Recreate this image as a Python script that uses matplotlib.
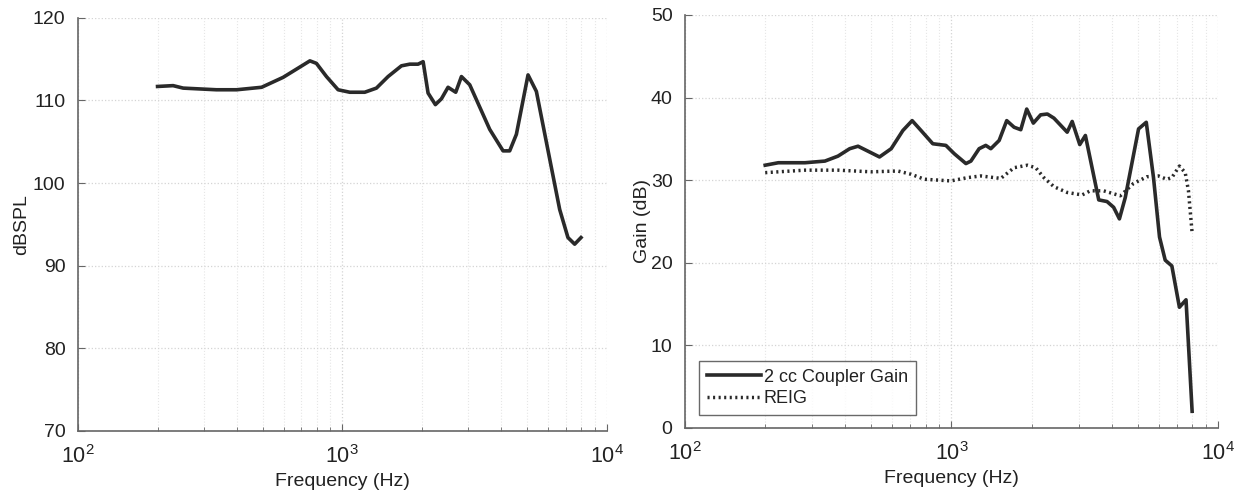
import matplotlib
matplotlib.use("Agg")
import matplotlib.pyplot as plt
from matplotlib.ticker import LogLocator, NullFormatter, FixedLocator

plt.rcParams['font.family'] = ['Liberation Sans', 'DejaVu Sans']
plt.rcParams['mathtext.fontset'] = 'custom'
plt.rcParams['mathtext.rm'] = 'Liberation Sans'
plt.rcParams['mathtext.it'] = 'Liberation Sans'
plt.rcParams['mathtext.default'] = 'regular'

# Left panel: output level (dBSPL)
spl_freq = [200, 229, 250, 334, 398, 495, 597, 671, 754, 798, 871, 964, 1067, 1216,
            1346, 1490, 1674, 1800, 1935, 2022, 2111, 2250, 2371, 2512, 2686, 2823,
            3035, 3612, 4057, 4298, 4556, 5043, 5423, 6092, 6644, 7140, 7570, 8000]
spl_db = [111.7, 111.8, 111.5, 111.3, 111.3, 111.6, 112.8, 113.8, 114.8, 114.5, 112.9,
          111.3, 111.0, 111.0, 111.5, 112.9, 114.2, 114.4, 114.4, 114.7, 110.9, 109.5,
          110.2, 111.6, 111.0, 112.9, 111.9, 106.5, 103.9, 103.9, 105.9, 113.1, 111.1,
          102.9, 96.8, 93.4, 92.6, 93.4]

# Right panel: 2 cc coupler gain
cpl_freq = [200, 224, 282, 335, 375, 415, 446, 486, 537, 594, 657, 712, 769, 851, 953,
            1024, 1133, 1183, 1270, 1345, 1405, 1510, 1612, 1718, 1820, 1916, 2029,
            2161, 2290, 2424, 2718, 2838, 3030, 3181, 3570, 3835, 4061, 4268, 4491,
            5036, 5383, 5730, 6036, 6340, 6715, 7168, 7589, 8000]
cpl_db = [31.8, 32.1, 32.1, 32.3, 32.9, 33.8, 34.1, 33.5, 32.8, 33.8, 36.0, 37.2, 36.0,
          34.4, 34.2, 33.2, 32.0, 32.3, 33.8, 34.2, 33.8, 34.8, 37.2, 36.4, 36.1, 38.6,
          36.9, 37.9, 38.0, 37.5, 35.8, 37.1, 34.3, 35.4, 27.6, 27.4, 26.7, 25.3, 27.9,
          36.2, 37.0, 30.3, 23.1, 20.3, 19.6, 14.6, 15.5, 2.0]

# Right panel: REIG
reig_freq = [200, 282, 375, 500, 629, 706, 791, 995, 1150, 1289, 1531, 1718, 1928, 2070,
             2222, 2424, 2718, 3091, 3319, 3723, 4303, 4824, 5410, 5979, 6426, 6715,
             7168, 7536, 7751, 8000]
reig_db = [30.9, 31.2, 31.2, 31.0, 31.1, 30.7, 30.1, 29.9, 30.3, 30.5, 30.2, 31.5, 31.8,
           31.5, 30.3, 29.2, 28.5, 28.2, 28.7, 28.7, 28.1, 29.6, 30.4, 30.5, 30.1, 30.3,
           31.7, 30.9, 28.7, 23.6]

x_label = "Frequency (Hz)"
left_ylabel = "dBSPL"
right_ylabel = "Gain (dB)"
legend_labels = ["2 cc Coupler Gain", "REIG"]

fig = plt.figure(figsize=(12.38, 4.98), dpi=100)
ax1 = fig.add_axes([0.063, 0.135, 0.427, 0.829])
ax2 = fig.add_axes([0.5533, 0.141, 0.4305, 0.829])

line_col = '#2a2a2a'
spine_col = '#666666'
text_col = '#222222'
FS = 14

def style(ax, ylim, yticks):
    ax.set_xscale('log')
    ax.set_xlim(100, 10000)
    ax.set_ylim(*ylim)
    ax.yaxis.set_major_locator(FixedLocator(yticks))
    ax.xaxis.set_major_locator(LogLocator(base=10, numticks=10))
    ax.xaxis.set_minor_locator(LogLocator(base=10, subs=range(2, 10), numticks=20))
    ax.xaxis.set_minor_formatter(NullFormatter())
    for s in ['top', 'right']:
        ax.spines[s].set_visible(False)
    for s in ['left', 'bottom']:
        ax.spines[s].set_color(spine_col)
        ax.spines[s].set_linewidth(1.2)
    ax.tick_params(which='both', direction='in', colors=spine_col, labelcolor=text_col,
                   labelsize=FS)
    ax.tick_params(axis='x', which='major', labelsize=15.5)
    ax.tick_params(which='major', length=5)
    ax.tick_params(which='minor', length=3)
    ax.tick_params(axis='x', which='major', pad=10)
    ax.tick_params(axis='y', which='major', pad=9)
    ax.grid(True, which='major', color='#d4d4d4', linestyle=':', linewidth=0.9)
    ax.grid(True, which='minor', axis='x', color='#e6e6e6', linestyle=':', linewidth=0.8)
    ax.set_axisbelow(True)
    ax.set_xlabel(x_label, fontsize=FS, color=text_col, labelpad=4)

style(ax1, (70, 120), [70, 80, 90, 100, 110, 120])
style(ax2, (0, 50), [0, 10, 20, 30, 40, 50])

ax1.plot(spl_freq, spl_db, color=line_col, linewidth=2.6, solid_joinstyle='round')
ax1.set_ylabel(left_ylabel, fontsize=FS, color=text_col, labelpad=2)

ax2.plot(cpl_freq, cpl_db, color=line_col, linewidth=2.6, label=legend_labels[0])
ax2.plot(reig_freq, reig_db, color=line_col, linewidth=2.5, linestyle=(0, (0.6, 1.0)),
         label=legend_labels[1])
ax2.set_ylabel(right_ylabel, fontsize=FS, color=text_col, labelpad=0)

leg = ax2.legend(loc='lower left', bbox_to_anchor=(0.026, 0.03), fontsize=13,
                 frameon=True, fancybox=False, handlelength=3.0, handletextpad=0.15,
                 borderpad=0.45, labelspacing=0.25, borderaxespad=0)
leg.get_frame().set_edgecolor('#444444')
leg.get_frame().set_linewidth(1.0)
for t in leg.get_texts():
    t.set_color(text_col)

fig.savefig("out.png", dpi=100)
